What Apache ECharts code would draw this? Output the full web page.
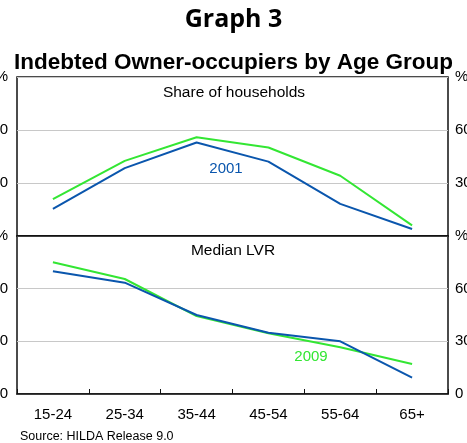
<!DOCTYPE html>
<html><head><meta charset="utf-8">
<script src="https://cdn.jsdelivr.net/npm/echarts@6/dist/echarts.min.js"></script>
<style>html,body{margin:0;padding:0;background:#fff}#c{width:467px;height:443px}</style>
</head><body><div id="c"></div>
<script>
const categories = ['15-24','25-34','35-44','45-54','55-64','65+'];
const share2001 = [15.4, 38.4, 52.9, 42.1, 18.2, 4.0];
const share2009 = [20.9, 42.5, 55.9, 50.1, 34.1, 6.0];
const lvr2001 = [69.9, 63.4, 45.0, 34.9, 30.0, 9.3];
const lvr2009 = [75.0, 65.5, 44.4, 34.6, 26.6, 17.1];
const yTicks = [0, 30, 60, 90];

const BLUE = '#0a56ad', GREEN = '#33e633';
const chart = echarts.init(document.getElementById('c'), null, {renderer:'canvas'});
const labFont = {fontFamily:'Liberation Sans, Arial', fontSize:15, color:'#000'};
function yAx(grid, pos, hideZero){
  return {type:'value', gridIndex:grid, position:pos, min:yTicks[0], max:yTicks[yTicks.length-1], interval:yTicks[1]-yTicks[0],
    axisLine:{show:false}, axisTick:{show:false},
    splitLine:{show:pos==='left', lineStyle:{color:'#c8c8c8', width:1}},
    axisLabel:Object.assign({margin:pos==='left'?9:7, align:pos==='left'?'right':'left',
      formatter:v=>v===90?'%':(v===0&&hideZero?'':String(v))}, labFont)};
}
chart.setOption({
  animation:false,
  title:[
    {text:'Graph 3', left:'center', top:2, textStyle:{fontFamily:'Open Sans', fontWeight:'bold', fontSize:25, color:'#000'}},
    {text:'Indebted Owner-occupiers by Age Group', left:'center', top:46, textStyle:{fontFamily:'Liberation Sans, Arial', fontWeight:'bold', fontSize:22.5, color:'#000'}},
    {text:'Source: HILDA Release 9.0', left:15, top:425, textStyle:{fontFamily:'Liberation Sans, Arial', fontWeight:'normal', fontSize:12.5, color:'#000'}}
  ],
  grid:[
    {left:17, right:19, top:77, height:159, show:true, borderColor:'#111', borderWidth:1.5, containLabel:false, outerBoundsMode:'none'},
    {left:17, right:19, top:236, height:158, show:true, borderColor:'#111', borderWidth:1.5, containLabel:false, outerBoundsMode:'none'}
  ],
  xAxis:[
    {type:'category', gridIndex:0, data:categories, boundaryGap:true, axisLine:{show:true, lineStyle:{color:'#111', width:1.5}}, axisTick:{show:false}, axisLabel:{show:false}},
    {type:'category', gridIndex:1, data:categories, boundaryGap:true, axisLine:{show:true, lineStyle:{color:'#111', width:1.5}},
      axisTick:{show:true, inside:true, length:5, lineStyle:{color:'#111'}}, axisLabel:Object.assign({margin:13}, labFont)}
  ],
  yAxis:[ yAx(0,'left',true), yAx(0,'right',true), yAx(1,'left',false), yAx(1,'right',false) ],
  series:[
    {type:'line', xAxisIndex:0, yAxisIndex:0, data:share2009, symbol:'none', lineStyle:{color:GREEN, width:2}},
    {type:'line', xAxisIndex:0, yAxisIndex:0, data:share2001, symbol:'none', lineStyle:{color:BLUE, width:2}},
    {type:'line', xAxisIndex:1, yAxisIndex:2, data:lvr2009, symbol:'none', lineStyle:{color:GREEN, width:2}},
    {type:'line', xAxisIndex:1, yAxisIndex:2, data:lvr2001, symbol:'none', lineStyle:{color:BLUE, width:2}}
  ],
  graphic:[
    {type:'text', x:234, y:93, style:{text:'Share of households', font:'15.5px "Liberation Sans", Arial', fill:'#000', align:'center', verticalAlign:'middle'}},
    {type:'text', x:233, y:251, style:{text:'Median LVR', font:'15.5px "Liberation Sans", Arial', fill:'#000', align:'center', verticalAlign:'middle'}},
    {type:'text', x:226, y:169, style:{text:'2001', font:'15px "Liberation Sans", Arial', fill:BLUE, align:'center', verticalAlign:'middle'}},
    {type:'text', x:311, y:357, style:{text:'2009', font:'15px "Liberation Sans", Arial', fill:GREEN, align:'center', verticalAlign:'middle'}}
  ]
});
</script></body></html>
